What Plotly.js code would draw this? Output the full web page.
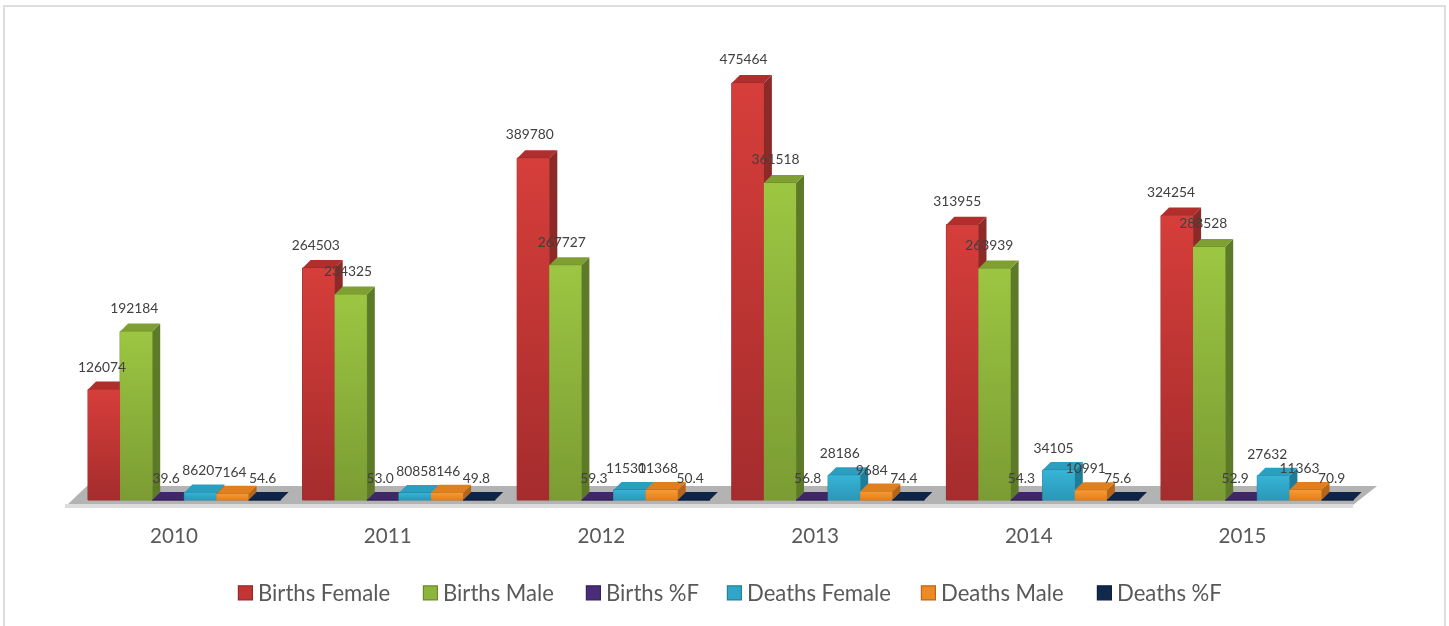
<!DOCTYPE html>
<html>
<head>
<meta charset="utf-8">
<script src="https://cdn.plot.ly/plotly-3.0.1.min.js"></script>
<style>
html,body{margin:0;padding:0;background:#fff;overflow:hidden}
#chart{position:absolute;left:0;top:0;width:1449px;height:626px;filter:blur(0.35px)}
#frame{position:absolute;left:3px;top:5px;width:1439px;height:640px;border:2px solid #dedede;pointer-events:none}
.legendsymbols{transform:translate(4px,0) scale(1.17)}
</style>
</head>
<body>
<div id="chart"></div>
<div id="frame"></div>
<script>
const years = ['2010','2011','2012','2013','2014','2015'];
const birthsFemale = [126074,264503,389780,475464,313955,324254];
const birthsMale = [192184,234325,267727,361518,263939,288528];
const birthsPctF = [39.6,53.0,59.3,56.8,54.3,52.9];
const deathsFemale = [8620,8085,11530,28186,34105,27632];
const deathsMale = [7164,8146,11368,9684,10991,11363];
const deathsPctF = [54.6,49.8,50.4,74.4,75.6,70.9];

const seriesList = [
  {name:'Births Female', values:birthsFemale, front:'#c23532', top:'#b02e2c', side:'#8c2a28', hi:'#d63e3a', lo:'#a52c2d', edge:'#8f2a2a', decimals:0, legendTextPx:258},
  {name:'Births Male', values:birthsMale, front:'#8db539', top:'#7f9f33', side:'#5c7a27', hi:'#9cc642', lo:'#7b9c33', edge:'#6a8a2c', decimals:0, legendTextPx:443},
  {name:'Births %F', values:birthsPctF, front:'#4a2d78', top:'#3f2768', side:'#32204f', hi:'#4a2d78', lo:'#3f2768', edge:'#36215a', decimals:1, legendTextPx:606},
  {name:'Deaths Female', values:deathsFemale, front:'#2fa6c7', top:'#2a9fc0', side:'#1f7d99', hi:'#36b4d6', lo:'#2b97b8', edge:'#237f9a', decimals:0, legendTextPx:747},
  {name:'Deaths Male', values:deathsMale, front:'#ee8a23', top:'#e07f1e', side:'#b8651a', hi:'#f79a33', lo:'#e27f1c', edge:'#b8661a', decimals:0, legendTextPx:941},
  {name:'Deaths %F', values:deathsPctF, front:'#10294f', top:'#0f2547', side:'#0a1a33', hi:'#10294f', lo:'#0f2547', edge:'#0c1f3d', decimals:1, legendTextPx:1117}
];

const W = 1449, H = 626;
const plotL = 60, plotR = 1385, plotT = 30, plotB = 512;
const tickPx0 = 174, pxPerCat = 214.6, tickSpacing = 213.7/214.6, zeroPx = 500, pxPerUnit = 417/475464;
const xr = [(plotL-tickPx0)/pxPerCat, (plotR-tickPx0)/pxPerCat];
const yr = [(zeroPx-plotB)/pxPerUnit, (zeroPx-plotT)/pxPerUnit];
const X = px => (px-tickPx0)/pxPerCat;
const Y = px => (zeroPx-px)/pxPerUnit;
const barW = 32.1/pxPerCat, groupStart = -86/pxPerCat;
const depthX = 8/pxPerCat, depthY = 8/pxPerUnit;
const labelLiftPx = 13.5, labelLiftGrow = 2.5/475464;
const idx = years.map((_,i)=>i);

function poly(pts){
  return 'M'+pts.map(p=>p[0]+','+p[1]).join('L')+'Z';
}

const shapes = [
  {type:'path',layer:'below',xref:'x',yref:'y',line:{width:0},fillcolor:'#b3b3b3',
   path:poly([[X(87),Y(486)],[X(1377),Y(486)],[X(1353),Y(505)],[X(67),Y(505)]])},
  {type:'path',layer:'below',xref:'x',yref:'y',line:{width:0},fillcolor:'#dcdcdc',
   path:poly([[X(65),Y(504)],[X(1353),Y(504)],[X(1353),Y(508)],[X(65),Y(508)]])}
];

const traces = [];
const overlays = [];
const labels = [];
seriesList.forEach((s,si)=>{
  const off = groupStart + si*barW;
  idx.forEach(i=>{
    const x0 = i+off, x1 = x0+barW, v = s.values[i];
    shapes.push({type:'path',layer:'below',xref:'x',yref:'y',line:{width:0},fillcolor:s.side,
      path:poly([[x1,0],[x1+depthX,depthY],[x1+depthX,v+depthY],[x1,v]])});
    shapes.push({type:'path',layer:'below',xref:'x',yref:'y',line:{width:0},fillcolor:s.top,
      path:poly([[x0,v],[x1,v],[x1+depthX,v+depthY],[x0+depthX,v+depthY]])});
    if(v > 1000){
      overlays.push({type:'scatter',mode:'lines',x:[x0,x1,x1,x0,x0],y:[0,0,v,v,0],fill:'toself',
        line:{width:0},showlegend:false,hoverinfo:'skip',
        fillgradient:{type:'vertical',colorscale:[[0,s.lo],[1,s.hi]]}});
    }
  });
  traces.push({type:'bar',name:s.name,x:idx,y:s.values,width:barW,offset:off,
    marker:{color:s.front,line:{width:1,color:s.edge}},legend:si===0?'legend':'legend'+(si+1),
    hovertemplate:'%{y}<extra>'+s.name+'</extra>'});
  labels.push({type:'scatter',mode:'text',x:idx.map(i=>i+off+barW/2-(2+i*0.8)/pxPerCat),
    y:s.values.map(v=>v+(labelLiftPx+v*labelLiftGrow)/pxPerUnit),text:s.values.map(v=>v.toFixed(s.decimals)),
    textposition:'top center',textfont:{family:'Lato, sans-serif',size:13.8,color:'#404040'},
    showlegend:false,hoverinfo:'skip'});
});

const layout = {
  width:W,height:H,autosize:false,
  margin:{l:plotL,r:W-plotR,t:plotT,b:H-plotB,pad:0},
  paper_bgcolor:'#ffffff',plot_bgcolor:'rgba(0,0,0,0)',
  barmode:'overlay',
  xaxis:{range:xr,type:'linear',tickmode:'array',tickvals:idx.map(i=>i*tickSpacing),ticktext:years,showgrid:false,zeroline:false,showline:false,ticks:'',
    ticklabelstandoff:9,tickfont:{family:'Lato, sans-serif',size:20.6,color:'#595959'}},
  yaxis:{range:yr,visible:false,showgrid:false,zeroline:false},
  shapes:shapes,
  showlegend:true,
  hovermode:'closest'
};
seriesList.forEach((s,si)=>{
  const key = si===0?'legend':'legend'+(si+1);
  layout[key] = {orientation:'h',x:(s.legendTextPx-40)/W,xref:'container',y:(H-593)/H,yref:'container',
    xanchor:'left',yanchor:'middle',bgcolor:'rgba(0,0,0,0)',
    font:{family:'Lato, sans-serif',size:22.1,color:'#595959'}};
});

Plotly.newPlot('chart',[...traces,...overlays,...labels],layout,{displayModeBar:false,staticPlot:true});
</script>
</body>
</html>
